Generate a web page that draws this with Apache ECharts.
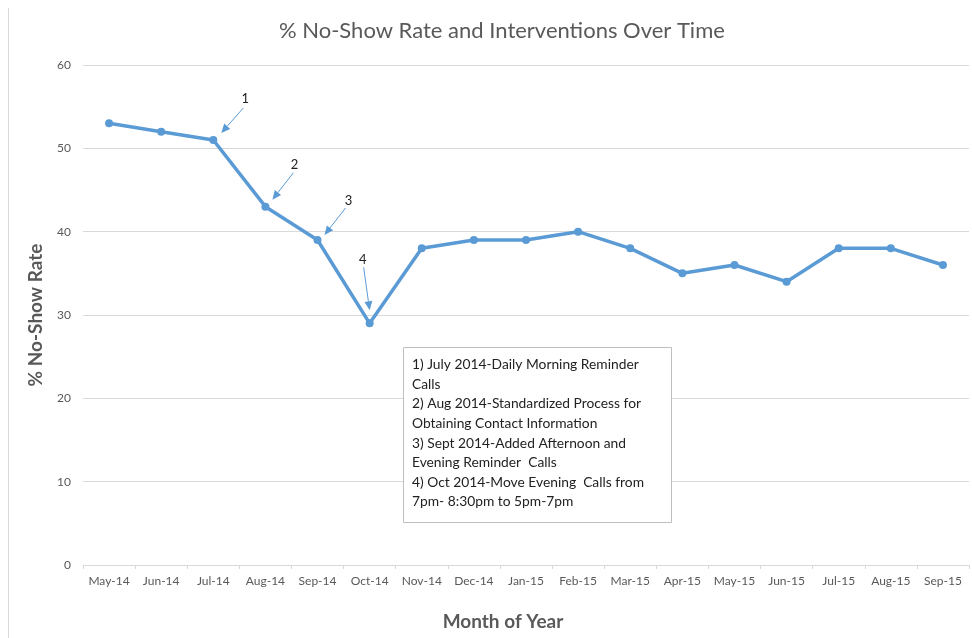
<!DOCTYPE html>
<html>
<head>
<meta charset="utf-8">
<script src="https://cdn.jsdelivr.net/npm/echarts@6/dist/echarts.min.js"></script>
<style>
  html, body { margin: 0; padding: 0; background: #fff; }
  #chart { width: 972px; height: 638px; }
</style>
</head>
<body>
<div id="chart"></div>
<script>
// months on the x axis
var months = ['May-14', 'Jun-14', 'Jul-14', 'Aug-14', 'Sep-14', 'Oct-14', 'Nov-14', 'Dec-14', 'Jan-15',
    'Feb-15', 'Mar-15', 'Apr-15', 'May-15', 'Jun-15', 'Jul-15', 'Aug-15', 'Sep-15'];
// % no-show rate per month
var noShowRate = [53, 52, 51, 43, 39, 29, 38, 39, 39, 40, 38, 35, 36, 34, 38, 38, 36];
// interventions: label and the month they point at
var interventionLabels = ['1', '2', '3', '4'];
var interventionMonths = [2, 3, 4, 5];
var notes = [
    '1) July 2014-Daily Morning Reminder',
    'Calls',
    '2) Aug 2014-Standardized Process for',
    'Obtaining Contact Information',
    '3) Sept 2014-Added Afternoon and',
    'Evening Reminder  Calls',
    '4) Oct 2014-Move Evening  Calls from',
    '7pm- 8:30pm to 5pm-7pm'
];

var FONT = 'Lato';
var GREY = '#595959';
var BLUE = '#5b9bd5';

var myChart = echarts.init(document.getElementById('chart'));

var option = {
    backgroundColor: '#fff',
    animation: false,
    title: {
        text: '% No-Show Rate and Interventions Over Time',
        left: 274,
        top: 15,
        textStyle: { fontFamily: FONT, fontSize: 22, fontWeight: 'normal', color: GREY }
    },
    grid: { left: 83, right: 3, top: 65, bottom: 73 },
    xAxis: {
        type: 'category',
        data: months,
        boundaryGap: true,
        name: 'Month of Year',
        nameLocation: 'middle',
        nameGap: 47,
        nameTextStyle: { fontFamily: FONT, fontSize: 19, fontWeight: 'bold', color: GREY, padding: [0, 46, 0, 0] },
        axisLine: { lineStyle: { color: '#d9d9d9', width: 1 } },
        axisTick: { show: true, length: 4, lineStyle: { color: '#d9d9d9' } },
        axisLabel: { fontFamily: FONT, fontSize: 12, color: GREY, margin: 10, interval: 0 }
    },
    yAxis: {
        type: 'value',
        min: 0,
        max: 60,
        interval: 10,
        name: '% No-Show Rate',
        nameLocation: 'middle',
        nameGap: 38,
        nameTextStyle: { fontFamily: FONT, fontSize: 19, fontWeight: 'bold', color: GREY },
        axisLine: { show: false },
        axisTick: { show: false },
        axisLabel: { fontFamily: FONT, fontSize: 12, color: GREY, margin: 12 },
        splitLine: { lineStyle: { color: '#d9d9d9', width: 1 } }
    },
    series: [{
        type: 'line',
        data: noShowRate,
        symbol: 'circle',
        symbolSize: 8,
        lineStyle: { color: BLUE, width: 3.5 },
        itemStyle: { color: BLUE }
    }]
};

myChart.setOption(option);

// arrow offsets from each point (tail, tip, label) in pixels
var arrowTail = [[30, -32], [28, -34], [28, -32], [-6, -56]];
var arrowTip = [[8, -7], [7, -7], [7, -5], [0, -13]];
var labelPos = [[32, -41], [29, -42], [31, -39], [-7, -64]];

function arrow(x1, y1, x2, y2) {
    var ang = Math.atan2(y2 - y1, x2 - x1);
    var len = 9, w = 4;
    var bx = x2 - len * Math.cos(ang), by = y2 - len * Math.sin(ang);
    var px = -Math.sin(ang) * w, py = Math.cos(ang) * w;
    return [
        { type: 'line', shape: { x1: x1, y1: y1, x2: bx, y2: by }, style: { stroke: BLUE, lineWidth: 1 } },
        { type: 'polygon', shape: { points: [[x2, y2], [bx + px, by + py], [bx - px, by - py]] }, style: { fill: BLUE } }
    ];
}

var graphics = [
    // outer chart border line on the left
    { type: 'line', shape: { x1: 8.5, y1: 8, x2: 8.5, y2: 638 }, style: { stroke: '#d9d9d9', lineWidth: 1 } }
];
for (var i = 0; i < interventionMonths.length; i++) {
    var k = interventionMonths[i];
    var p = myChart.convertToPixel({ seriesIndex: 0 }, [k, noShowRate[k]]);
    graphics = graphics.concat(arrow(p[0] + arrowTail[i][0], p[1] + arrowTail[i][1],
        p[0] + arrowTip[i][0], p[1] + arrowTip[i][1]));
    graphics.push({
        type: 'text',
        x: p[0] + labelPos[i][0],
        y: p[1] + labelPos[i][1],
        style: { text: interventionLabels[i], font: '13px ' + FONT, fill: '#222', align: 'center', verticalAlign: 'middle' }
    });
}

// notes box
graphics.push({
    type: 'rect',
    shape: { x: 403.5, y: 347.5, width: 268, height: 175 },
    style: { fill: '#fff', stroke: '#bfbfbf', lineWidth: 1 }
});
graphics.push({
    type: 'text',
    x: 412,
    y: 355,
    style: { text: notes.join('\n'), font: '13.8px ' + FONT, fill: '#222', lineHeight: 19.6 }
});

myChart.setOption({ graphic: graphics });
</script>
</body>
</html>
